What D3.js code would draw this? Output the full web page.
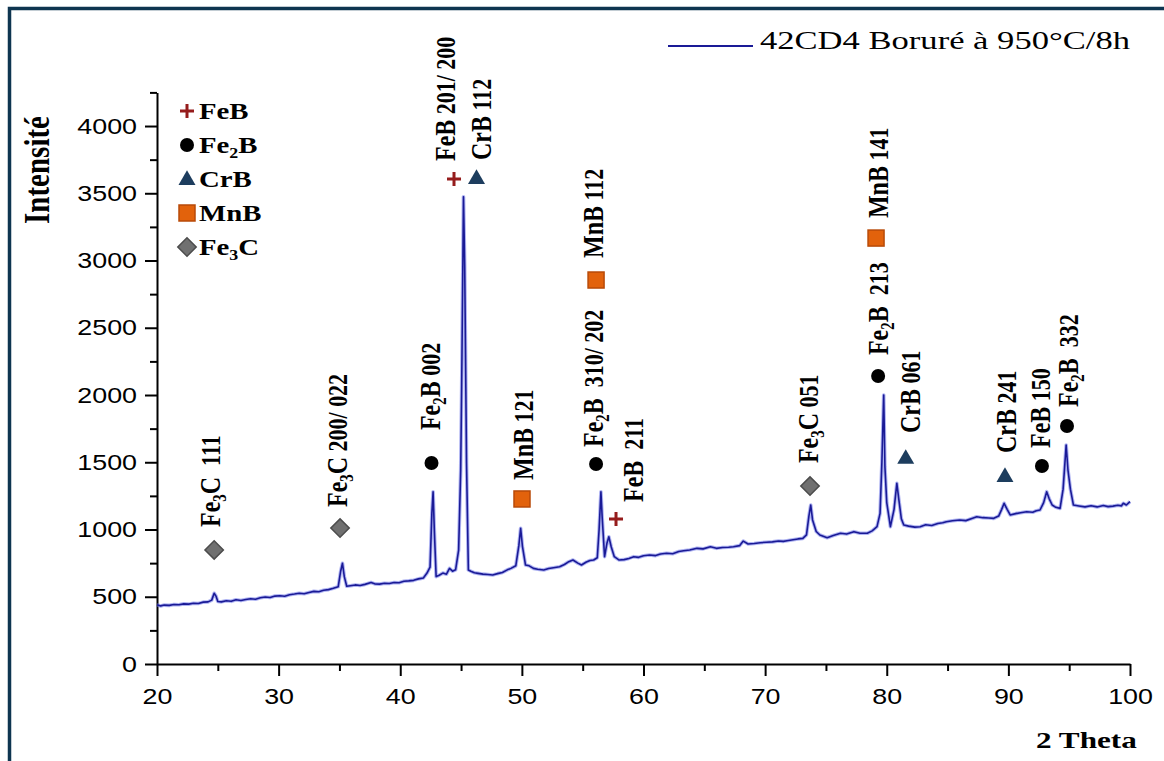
<!DOCTYPE html>
<html>
<head>
<meta charset="utf-8">
<script src="https://cdn.jsdelivr.net/npm/d3@7"></script>
<style>
  body { margin: 0; background: #fff; }
  svg { display: block; }
  .serif { font-family: 'Liberation Serif', 'Times New Roman', serif; }
  .tick text { font-family: 'Liberation Sans', Arial, sans-serif; font-size: 22px; fill: #000; }
</style>
</head>
<body>
<div id="container"></div>
<script>
// XRD pattern, 42CD4 borided at 950°C / 8h
const twoTheta = [
  20.0, 20.3, 20.6, 21.0, 21.4, 21.8, 22.2, 22.6, 23.0, 23.4, 23.8, 24.2, 24.5, 24.7, 24.85, 25.0,
  25.3, 25.7, 26.1, 26.5, 26.9, 27.3, 27.7, 28.1, 28.5, 28.9, 29.3, 29.7, 30.1, 30.5, 30.9, 31.3,
  31.7, 32.1, 32.5, 32.9, 33.3, 33.7, 34.1, 34.5, 34.9, 35.1, 35.25, 35.4, 35.6, 35.9, 36.3, 36.7,
  37.1, 37.6, 37.9, 38.3, 38.7, 39.1, 39.5, 39.9, 40.3, 40.7, 41.1, 41.5, 41.9, 42.2, 42.45, 42.6,
  42.7, 42.8, 42.95, 43.2, 43.5, 43.8, 44.05, 44.3, 44.55, 44.8, 44.97, 45.05, 45.2, 45.3, 45.45, 45.6,
  45.8, 46.1, 46.4, 46.8, 47.2, 47.6, 48.0, 48.4, 48.8, 49.1, 49.5, 49.75, 49.9, 50.05, 50.3, 50.6,
  50.95, 51.3, 51.8, 52.2, 52.6, 53.1, 53.5, 53.8, 54.2, 54.6, 54.9, 55.3, 55.6, 55.9, 56.2, 56.35,
  56.5, 56.6, 56.8, 57.0, 57.15, 57.35, 57.6, 58.0, 58.4, 58.8, 59.2, 59.6, 60.0, 60.5, 61.0, 61.4,
  61.9, 62.4, 62.9, 63.3, 63.8, 64.4, 64.9, 65.5, 66.0, 66.5, 67.0, 67.4, 67.9, 68.2, 68.6, 69.1,
  69.6, 70.1, 70.6, 71.1, 71.5, 71.8, 72.3, 72.7, 73.1, 73.4, 73.6, 73.75, 73.9, 74.2, 74.5, 75.1,
  75.6, 76.2, 76.7, 77.3, 77.8, 78.4, 78.8, 79.2, 79.45, 79.6, 79.75, 79.85, 80.0, 80.3, 80.6, 80.83,
  81.0, 81.2, 81.4, 81.8, 82.3, 82.75, 83.2, 83.7, 84.2, 84.6, 84.9, 85.4, 86.0, 86.5, 87.0, 87.4,
  87.9, 88.4, 88.8, 89.2, 89.45, 89.65, 89.9, 90.15, 90.6, 91.0, 91.5, 92.0, 92.3, 92.6, 92.9, 93.15,
  93.35, 93.6, 93.9, 94.25, 94.5, 94.75, 94.9, 95.1, 95.35, 95.8, 96.3, 96.8, 97.3, 97.8, 98.2, 98.6,
  99.0, 99.3, 99.45, 99.7, 100.0
];
const intensity = [
  440, 432, 438, 436, 442, 440, 447, 445, 452, 450, 460, 462, 475, 526, 505, 465,
  462, 470, 466, 478, 472, 480, 485, 482, 492, 498, 495, 505, 508, 504, 515, 520,
  526, 522, 532, 540, 537, 548, 553, 563, 575, 690, 749, 650, 578, 582, 588, 584,
  592, 606, 596, 594, 600, 598, 606, 604, 615, 618, 622, 633, 640, 676, 720, 1122,
  1281, 1000, 650, 660, 676, 668, 711, 690, 700, 847, 1442, 2062, 3474, 2954, 1492, 699,
  690, 678, 674, 668, 665, 662, 672, 680, 700, 711, 730, 880, 1009, 872, 736, 730,
  711, 705, 699, 710, 716, 723, 740, 758, 773, 750, 736, 758, 770, 773, 790, 1000,
  1281, 1095, 798, 900, 946, 870, 798, 773, 776, 785, 798, 793, 805, 810, 806, 818,
  823, 820, 836, 842, 848, 860, 856, 872, 860, 866, 868, 872, 880, 914, 892, 896,
  902, 905, 908, 914, 912, 917, 924, 930, 934, 960, 1100, 1182, 1071, 985, 959, 939,
  955, 972, 966, 984, 972, 972, 990, 1021, 1120, 1500, 2000, 1467, 1200, 1021, 1150, 1343,
  1219, 1080, 1033, 1025, 1018, 1021, 1035, 1030, 1045, 1050, 1058, 1065, 1071, 1066, 1082, 1095,
  1088, 1086, 1083, 1100, 1150, 1195, 1150, 1108, 1118, 1125, 1132, 1128, 1140, 1145, 1200, 1281,
  1230, 1182, 1165, 1157, 1300, 1628, 1442, 1300, 1182, 1175, 1168, 1176, 1168, 1178, 1170, 1174,
  1180, 1176, 1195, 1182, 1207
];

// peak identifications: marker position (2θ, intensity), symbol, phase and reflection
const peakTheta = [24.7, 35.05, 42.57, 44.42, 46.27, 50.01, 56.1, 56.1, 57.74, 73.69, 79.12, 79.29, 81.56, 89.72, 92.76, 94.82];
const peakLevel = [848, 1011, 1494, 3606, 3613, 1227, 2855, 1487, 1078, 1323, 3167, 2141, 1532, 1398, 1472, 1770];
const peakSymbol = ['Fe3C', 'Fe3C', 'Fe2B', 'FeB', 'CrB', 'MnB', 'MnB', 'Fe2B', 'FeB', 'Fe3C', 'MnB', 'Fe2B', 'CrB', 'CrB', 'Fe2B', 'Fe2B'];
const peakPhase = ['Fe3C', 'Fe3C', 'Fe2B', 'FeB', 'CrB', 'MnB', 'MnB', 'Fe2B', 'FeB', 'Fe3C', 'MnB', 'Fe2B', 'CrB', 'CrB', 'FeB', 'Fe2B'];
const peakHkl = ['\u00a0111', '200/ 022', '002', '201/ 200', '112', '121', '112', '\u00a0310/ 202', '\u00a0211', '051', '141', '\u00a0213', '061', '241', '150', '\u00a0332'];

const legendKeys = ['FeB', 'Fe2B', 'CrB', 'MnB', 'Fe3C'];

const xTicks = [20, 30, 40, 50, 60, 70, 80, 90, 100];
const xMinorTicks = [25, 35, 45, 55, 65, 75, 85, 95];
const yTicks = [0, 500, 1000, 1500, 2000, 2500, 3000, 3500, 4000];
const yMinorTicks = [250, 750, 1250, 1750, 2250, 2750, 3250, 3750, 4250];

const seriesName = '42CD4 Boruré à 950°C/8h';

// label placement relative to its marker (px)
const labelDx = [6, 7, 8, 1, 14, 11, 7, 7, 27, 8, 12, 10, 14, 11, 8, 11];
const labelGap = [23, 21, 33, 18, 18, 19, 22, 17, 17, 23, 20, 21, 25, 23, 18, 19];

const width = 1164;
const height = 761;
const stretch = 1.2;   // the source figure is slightly widened

const svg = d3.select('#container').append('svg')
  .attr('width', width)
  .attr('height', height);

svg.append('rect').attr('width', width).attr('height', height).attr('fill', '#fff');

// frame (left + top only)
svg.append('path')
  .attr('d', `M9.5,${height} V8.5 H${width}`)
  .attr('fill', 'none')
  .attr('stroke', '#0e3550')
  .attr('stroke-width', 3.5);

const x = d3.scaleLinear().domain([20, 100]).range([157, 1130]);
const y = d3.scaleLinear().domain([0, 4250]).range([664, 92.4]);

function styleAxis(g) {
  g.selectAll('path, line').attr('stroke', '#000').attr('stroke-width', 2);
}

// x axis
svg.append('g')
  .attr('transform', 'translate(0,664)')
  .call(d3.axisBottom(x).tickValues(xTicks).tickFormat(d3.format('d'))
    .tickSize(12).tickPadding(12).tickSizeOuter(0))
  .call(styleAxis)
  .selectAll('text')
  .attr('transform', `scale(${1.22},1)`);

svg.append('g')
  .attr('transform', 'translate(0,664)')
  .call(d3.axisBottom(x).tickValues(xMinorTicks).tickSize(7).tickFormat(''))
  .call(g => g.select('.domain').remove())
  .call(styleAxis);

// y axis
svg.append('g')
  .attr('transform', 'translate(157,0)')
  .call(d3.axisLeft(y).tickValues(yTicks).tickFormat(d3.format('d'))
    .tickSize(12).tickPadding(8).tickSizeOuter(0))
  .call(styleAxis)
  .selectAll('text')
  .each(function () {
    const t = d3.select(this);
    const tx = +t.attr('x');
    t.attr('x', 0).attr('transform', `translate(${tx},0) scale(${1.22},1)`);
  });

svg.append('g')
  .attr('transform', 'translate(157,0)')
  .call(d3.axisLeft(y).tickValues(yMinorTicks).tickSize(7).tickFormat(''))
  .call(g => g.select('.domain').remove())
  .call(styleAxis);

// axis titles
svg.append('text')
  .attr('class', 'serif')
  .attr('font-size', 29)
  .attr('font-weight', 'bold')
  .attr('text-anchor', 'middle')
  .attr('transform', `translate(49,170) scale(${stretch},1) rotate(-90)`)
  .text('Intensité');

svg.append('text')
  .attr('class', 'serif')
  .attr('font-size', 24)
  .attr('font-weight', 'bold')
  .attr('transform', 'translate(1036,748) scale(1.3,1)')
  .text('2 Theta');

// spectrum
const points = twoTheta.map((t, i) => [t, intensity[i]]);
const line = d3.line().x(d => x(d[0])).y(d => y(d[1]));

svg.append('path')
  .datum(points)
  .attr('d', line)
  .attr('fill', 'none')
  .attr('stroke', '#6d76e8')
  .attr('stroke-opacity', 0.55)
  .attr('stroke-width', 3.6)
  .attr('stroke-linejoin', 'round');

svg.append('path')
  .datum(points)
  .attr('d', line)
  .attr('fill', 'none')
  .attr('stroke', '#1a1a96')
  .attr('stroke-width', 1.6)
  .attr('stroke-linejoin', 'round');

// phase symbols
function drawSymbol(key, cx, cy) {
  const g = svg.append('g').attr('transform', `translate(${cx},${cy})`);
  if (key === 'FeB') {
    g.append('path').attr('d', 'M-7,0H7M0,-7V7')
      .attr('stroke', '#951c1c').attr('stroke-width', 3);
  } else if (key === 'Fe2B') {
    g.append('circle').attr('r', 7).attr('fill', '#000');
  } else if (key === 'CrB') {
    g.append('path').attr('d', d3.symbol(d3.symbolTriangle, 125)())
      .attr('transform', 'translate(0,1)')
      .attr('fill', '#1d3d5e');
  } else if (key === 'MnB') {
    g.append('rect').attr('x', -8).attr('y', -8).attr('width', 16).attr('height', 16)
      .attr('fill', '#e2620c').attr('stroke', '#b84a08').attr('stroke-width', 1.5);
  } else {
    g.append('rect').attr('x', -6.5).attr('y', -6.5).attr('width', 13).attr('height', 13)
      .attr('transform', 'rotate(45)')
      .attr('fill', '#707070').attr('stroke', '#4c4c4c').attr('stroke-width', 1.5);
  }
}

// phase name with a subscript digit (Fe2B, Fe3C)
function writePhase(text, name, size) {
  const m = name.match(/^(\D+)(\d)(\D+)$/);
  if (!m) {
    text.append('tspan').attr('font-size', size).text(name);
    return;
  }
  text.append('tspan').attr('font-size', size).text(m[1]);
  text.append('tspan').attr('font-size', size * 0.62).attr('dy', 5).text(m[2]);
  text.append('tspan').attr('font-size', size).attr('dy', -5).text(m[3]);
}

peakTheta.forEach((t, i) => {
  const px = x(t);
  const py = y(peakLevel[i]);
  drawSymbol(peakSymbol[i], px, py);
  const label = svg.append('text')
    .attr('class', 'serif')
    .attr('font-weight', 'bold')
    .attr('transform', `translate(${px + labelDx[i]},${py - labelGap[i]}) scale(${stretch},1) rotate(-90)`);
  writePhase(label, peakPhase[i], 24);
  label.append('tspan').attr('font-size', 22).text('\u00a0' + peakHkl[i]);
});

// phase legend
legendKeys.forEach((key, i) => {
  const base = 119 + i * 34;
  drawSymbol(key, 187, base - 8);
  const t = svg.append('text')
    .attr('class', 'serif')
    .attr('font-weight', 'bold')
    .attr('transform', `translate(199,${base}) scale(${stretch},1)`);
  writePhase(t, key, 24);
});

// series legend
svg.append('line')
  .attr('x1', 668).attr('x2', 753)
  .attr('y1', 46).attr('y2', 46)
  .attr('stroke', '#1a1a96')
  .attr('stroke-width', 2);

svg.append('text')
  .attr('class', 'serif')
  .attr('font-size', 26)
  .attr('transform', 'translate(760,49) scale(1.33,1)')
  .text(seriesName);
</script>
</body>
</html>
